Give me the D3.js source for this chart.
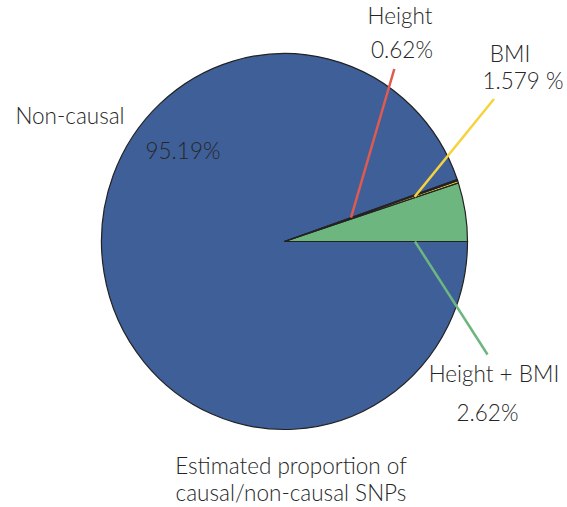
<!DOCTYPE html>
<html>
<head>
<meta charset="utf-8">
<script src="https://cdn.jsdelivr.net/npm/d3@7"></script>
<style>
  body { margin: 0; background: #fff; }
  text { font-family: "Lato", "Open Sans", sans-serif; font-weight: 300; fill: #262626; font-size: 22.5px; }
</style>
</head>
<body>
<svg></svg>
<script>
// slice sizes as drawn (percent of the circle)
let categories = ["Height + BMI", "BMI", "Height", "Non-causal"];
let sliceValues = [5.05, 0.2, 0.1, 94.65];
// percentages printed on the chart
let labelTexts = ["2.62%", "1.579 %", "0.62%", "95.19%"];
let colors = ["#6DB67F", "#F6D33C", "#E05A50", "#3E5F98"];

let width = 567;
let height = 507;
let cx = 284.5;
let cy = 241.5;
let radius = 183;

let svg = d3.select("svg").attr("width", width).attr("height", height);

// counter-clockwise from 3 o'clock
let pie = d3
  .pie()
  .sort(null)
  .value((d) => d)
  .startAngle(Math.PI / 2)
  .endAngle(Math.PI / 2 - 2 * Math.PI);

let arcs = pie(sliceValues);
let arc = d3.arc().innerRadius(0).outerRadius(radius);

let g = svg
  .append("g")
  .attr("transform", `translate(${cx}, ${cy}) scale(1, ${188 / 183})`);

// draw the big slice first so thin ones sit on top
let order = [3, 0, 1, 2];
g.selectAll("path")
  .data(order.map((i) => arcs[i]))
  .enter()
  .append("path")
  .attr("d", arc)
  .attr("fill", (d) => colors[d.index])
  .attr("stroke", "#222")
  .attr("stroke-width", 1.2)
  .attr("vector-effect", "non-scaling-stroke");

// point at angle a (d3 convention) and fraction f of the radius
function pointAt(a, f) {
  return [
    cx + Math.sin(a) * radius * f,
    cy - Math.cos(a) * radius * f * (188 / 183),
  ];
}

// leader lines: slice index, angle on the slice, radius fraction, end point
let leaders = [
  { i: 0, a: arcs[0].startAngle, f: 0.713, end: [487.5, 354.5], color: colors[0] },
  { i: 1, a: (arcs[1].startAngle + arcs[1].endAngle) / 2, f: 0.75, end: [494, 99], color: colors[1] },
  { i: 2, a: arcs[2].endAngle, f: 0.385, end: [394.3, 69], color: colors[2] },
];

svg
  .selectAll("line.leader")
  .data(leaders)
  .enter()
  .append("line")
  .attr("class", "leader")
  .attr("x1", (d) => pointAt(d.a, d.f)[0])
  .attr("y1", (d) => pointAt(d.a, d.f)[1])
  .attr("x2", (d) => d.end[0])
  .attr("y2", (d) => d.end[1])
  .attr("stroke", (d) => d.color)
  .attr("stroke-width", 2.5);

// category names and percentages
let labels = [
  { t: categories[3], x: 70, y: 124 },
  { t: labelTexts[3], x: 183, y: 159 },
  { t: categories[2], x: 400, y: 24 },
  { t: labelTexts[2], x: 402, y: 58 },
  { t: categories[1], x: 510, y: 61.5 },
  { t: labelTexts[1], x: 523, y: 89 },
  { t: categories[0], x: 494, y: 382 },
  { t: labelTexts[0], x: 487.5, y: 421 },
];

svg
  .selectAll("text.lbl")
  .data(labels)
  .enter()
  .append("text")
  .attr("class", "lbl")
  .attr("x", (d) => d.x)
  .attr("y", (d) => d.y)
  .style("text-anchor", "middle")
  .text((d) => d.t);

let title = ["Estimated proportion of", "causal/non-causal SNPs"];
svg
  .selectAll("text.title")
  .data(title)
  .enter()
  .append("text")
  .attr("class", "title")
  .attr("x", 291)
  .attr("y", (d, i) => 474 + i * 27)
  .style("text-anchor", "middle")
  .text((d) => d);
</script>
</body>
</html>
